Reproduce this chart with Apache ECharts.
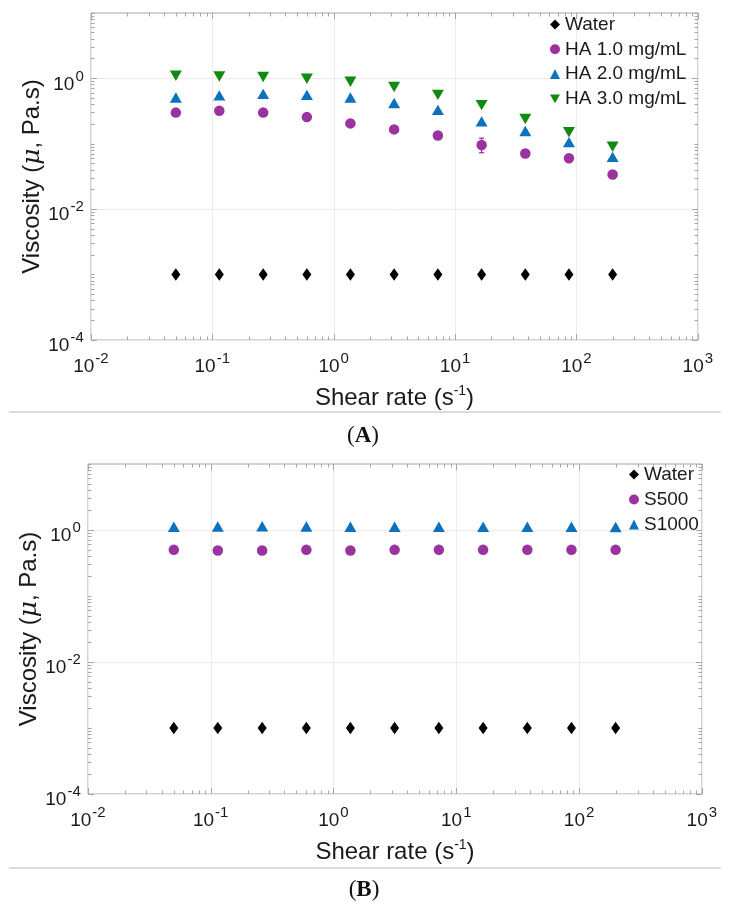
<!DOCTYPE html>
<html>
<head>
<meta charset="utf-8">
<script src="https://cdn.jsdelivr.net/npm/echarts@6/dist/echarts.min.js"></script>
<style>html,body{margin:0;padding:0;background:#fff;}#c{width:729px;height:911px;}</style>
</head>
<body>
<div id="c"></div>
<script>
// ---- data ----
const shearRate = [0.05, 0.114, 0.262, 0.6, 1.37, 3.14, 7.2, 16.5, 37.8, 86.5, 198];
const waterA = [0.001, 0.001, 0.001, 0.001, 0.001, 0.001, 0.001, 0.001, 0.001, 0.001, 0.001];
const ha10 = [0.30, 0.32, 0.30, 0.256, 0.205, 0.166, 0.134, 0.096, 0.071, 0.060, 0.034];
const ha20 = [0.51, 0.55, 0.58, 0.56, 0.51, 0.42, 0.33, 0.22, 0.157, 0.106, 0.063];
const ha30 = [1.10, 1.07, 1.05, 0.99, 0.89, 0.74, 0.56, 0.39, 0.24, 0.15, 0.09];
const ha10Err = [[16.5, 0.073, 0.122]];
const waterB = [0.001, 0.001, 0.001, 0.001, 0.001, 0.001, 0.001, 0.001, 0.001, 0.001, 0.001];
const s500 = [0.50, 0.49, 0.49, 0.50, 0.49, 0.50, 0.50, 0.50, 0.50, 0.50, 0.50];
const s1000 = [1.12, 1.13, 1.14, 1.13, 1.12, 1.12, 1.12, 1.12, 1.12, 1.12, 1.11];
const xTicks = [0.01, 0.1, 1, 10, 100, 1000];
const yTicks = [1e-4, 1e-2, 1];
const legendA = ['Water', 'HA 1.0 mg/mL', 'HA 2.0 mg/mL', 'HA 3.0 mg/mL'];
const legendB = ['Water', 'S500', 'S1000'];

// minor tick positions (2..9 within each decade)
function minorTicks(decades) {
  const out = [];
  decades.forEach(d => { for (let k = 2; k <= 10; k++) out.push(+(k * d).toPrecision(6)); });
  return out;
}
const xMinor = minorTicks([0.01, 0.1, 1, 10, 100]).filter(v => xTicks.indexOf(v) < 0);
const yMinor = minorTicks([1e-4, 1e-3, 1e-2, 1e-1, 1]).filter(v => yTicks.indexOf(v) < 0);

const FONT = '"Liberation Sans", Arial, Helvetica, sans-serif';
const SERIF = '"Liberation Serif", "DejaVu Serif", serif';
const TXT = '#1a1a1a';
const FRAME = '#a6a6a6';
const C = { black: '#000000', purple: '#9a339f', blue: '#0c72bd', green: '#108a10' };

function expFmt(v) {
  const e = Math.round(Math.log10(v));
  return '{b|10}{s|' + e + '}{z| }';
}
const labelRich = {
  b: { fontSize: 19, fontFamily: FONT, color: TXT, verticalAlign: 'bottom', lineHeight: 20 },
  s: { fontSize: 15, fontFamily: FONT, color: TXT, verticalAlign: 'top', lineHeight: 15, padding: [0, 0, 0, 1] },
  z: { fontSize: 1, lineHeight: 25, verticalAlign: 'bottom', color: 'rgba(0,0,0,0)' }
};

function xAxes(g) {
  const base = { type: 'log', logBase: 10, min: 0.01, max: 1000, gridIndex: g, axisLine: { show: false } };
  return [
    Object.assign({}, base, {
      position: 'bottom',
      name: '{a|Shear rate (s}{s|-1}{a|)}',
      nameLocation: 'middle', nameGap: 44, nameMoveOverlap: false,
      nameTextStyle: { rich: {
        a: { fontSize: 24, fontFamily: FONT, color: TXT, verticalAlign: 'bottom', lineHeight: 26 },
        s: { fontSize: 14, fontFamily: FONT, color: TXT, verticalAlign: 'top', lineHeight: 14, padding: [0, 0, 14, 0] } } },
      axisTick: { show: true, inside: true, length: 6, customValues: xTicks, lineStyle: { color: FRAME } },
      axisLabel: { show: true, customValues: xTicks, formatter: expFmt, rich: labelRich, margin: 11 },
      splitLine: { show: true, lineStyle: { color: '#ececec', width: 1 } }
    }),
    Object.assign({}, base, {
      position: 'bottom',
      axisTick: { show: true, inside: true, length: 3.5, customValues: xMinor, lineStyle: { color: FRAME } },
      axisLabel: { show: false }, splitLine: { show: false }
    }),
    Object.assign({}, base, {
      position: 'top',
      axisTick: { show: true, inside: true, length: 6, customValues: xTicks, lineStyle: { color: FRAME } },
      axisLabel: { show: false }, splitLine: { show: false }
    }),
    Object.assign({}, base, {
      position: 'top',
      axisTick: { show: true, inside: true, length: 3.5, customValues: xMinor, lineStyle: { color: FRAME } },
      axisLabel: { show: false }, splitLine: { show: false }
    })
  ];
}
function yAxes(g) {
  const base = { type: 'log', logBase: 10, min: 1e-4, max: 10, gridIndex: g, axisLine: { show: false } };
  return [
    Object.assign({}, base, {
      position: 'left',
      name: '{a|Viscosity (}{m|μ}{a|, Pa.s)}',
      nameLocation: 'middle', nameGap: 46, nameRotate: 90, nameMoveOverlap: false,
      nameTextStyle: { rich: {
        a: { fontSize: 24, fontFamily: FONT, color: TXT },
        m: { fontSize: 25, fontFamily: '"DejaVu Serif", "Liberation Serif", serif', fontStyle: 'italic', color: TXT } } },
      axisTick: { show: true, inside: true, length: 6, customValues: yTicks, lineStyle: { color: FRAME } },
      axisLabel: { show: true, customValues: yTicks, formatter: expFmt, rich: labelRich, margin: 7, padding: [6, 0, 0, 0] },
      splitLine: { show: true, lineStyle: { color: '#ececec', width: 1 } }
    }),
    Object.assign({}, base, {
      position: 'left',
      axisTick: { show: true, inside: true, length: 3.5, customValues: yMinor, lineStyle: { color: FRAME } },
      axisLabel: { show: false }, splitLine: { show: false }
    }),
    Object.assign({}, base, {
      position: 'right',
      axisTick: { show: true, inside: true, length: 6, customValues: yTicks, lineStyle: { color: FRAME } },
      axisLabel: { show: false }, splitLine: { show: false }
    }),
    Object.assign({}, base, {
      position: 'right',
      axisTick: { show: true, inside: true, length: 3.5, customValues: yMinor, lineStyle: { color: FRAME } },
      axisLabel: { show: false }, splitLine: { show: false }
    })
  ];
}

const DOWN_TRI = 'path://M0,0 L12,0 L6,10.4 Z';
function pts(arr) { return shearRate.map((x, i) => [x, arr[i]]); }
function sc(name, arr, g, symbol, size, color) {
  return {
    type: 'scatter', name: name, data: pts(arr),
    xAxisIndex: g * 4, yAxisIndex: g * 4,
    symbol: symbol, symbolSize: size,
    itemStyle: { color: color, opacity: 1 }, z: 3,
    emphasis: { disabled: true }, animation: false
  };
}
const legendText = { fontSize: 19, fontFamily: FONT, color: TXT };
const capRich = {
  p: { fontSize: 23, fontFamily: SERIF, fill: '#111' },
  q: { fontSize: 23, fontWeight: 'bold', fontFamily: SERIF, fill: '#111' }
};

const option = {
  backgroundColor: '#ffffff',
  animation: false,
  grid: [
    { left: 91, top: 13, width: 607, height: 327, show: true, borderColor: FRAME, borderWidth: 1, backgroundColor: 'transparent' },
    { left: 88, top: 464, width: 614, height: 330, show: true, borderColor: FRAME, borderWidth: 1, backgroundColor: 'transparent' }
  ],
  xAxis: xAxes(0).concat(xAxes(1)),
  yAxis: yAxes(0).concat(yAxes(1)),
  legend: [
    { data: legendA, orient: 'vertical', left: 550, top: 15, itemWidth: 10, itemHeight: 10, itemGap: 5.8,
      textStyle: legendText, selectedMode: false, padding: 0 },
    { data: legendB, orient: 'vertical', left: 629, top: 465, itemWidth: 10, itemHeight: 10, itemGap: 6,
      textStyle: legendText, selectedMode: false, padding: 0 }
  ],
  series: [
    sc('Water', waterA, 0, 'diamond', [9, 12.5], C.black),
    {
      type: 'custom', name: 'errA', data: ha10Err, xAxisIndex: 0, yAxisIndex: 0, z: 2,
      encode: { x: 0, y: [1, 2] }, silent: true,
      renderItem: function (params, api) {
        const x = api.value(0);
        const p1 = api.coord([x, api.value(1)]);
        const p2 = api.coord([x, api.value(2)]);
        const st = { stroke: C.purple, lineWidth: 1.3 };
        return { type: 'group', children: [
          { type: 'line', shape: { x1: p1[0], y1: p1[1], x2: p2[0], y2: p2[1] }, style: st },
          { type: 'line', shape: { x1: p1[0] - 2.5, y1: p1[1], x2: p1[0] + 2.5, y2: p1[1] }, style: st },
          { type: 'line', shape: { x1: p2[0] - 2.5, y1: p2[1], x2: p2[0] + 2.5, y2: p2[1] }, style: st }
        ] };
      }
    },
    sc('HA 1.0 mg/mL', ha10, 0, 'circle', 10.5, C.purple),
    sc('HA 2.0 mg/mL', ha20, 0, 'triangle', [12, 10.4], C.blue),
    sc('HA 3.0 mg/mL', ha30, 0, DOWN_TRI, [12, 10.4], C.green),
    sc('Water', waterB, 1, 'diamond', [9, 12.5], C.black),
    sc('S500', s500, 1, 'circle', 10.5, C.purple),
    sc('S1000', s1000, 1, 'triangle', [12, 10.4], C.blue)
  ],
  graphic: [
    { type: 'line', shape: { x1: 9, y1: 412, x2: 721, y2: 412 }, style: { stroke: '#dcdcdc', lineWidth: 2 } },
    { type: 'text', x: 363, y: 436, style: { text: '{p|(}{q|A}{p|)}', align: 'center', verticalAlign: 'middle', rich: capRich } },
    { type: 'line', shape: { x1: 9, y1: 868, x2: 721, y2: 868 }, style: { stroke: '#dcdcdc', lineWidth: 2 } },
    { type: 'text', x: 364, y: 890, style: { text: '{p|(}{q|B}{p|)}', align: 'center', verticalAlign: 'middle', rich: capRich } }
  ]
};
const chart = echarts.init(document.getElementById('c'), null, { renderer: 'canvas' });
chart.setOption(option);
</script>
</body>
</html>
